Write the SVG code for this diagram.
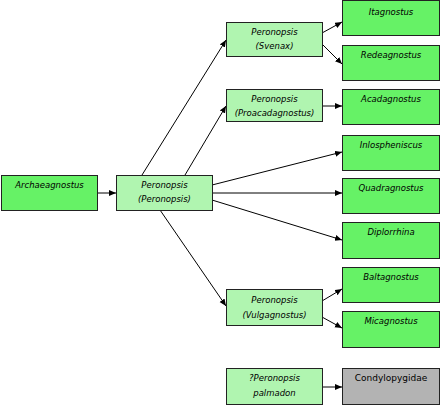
<svg xmlns="http://www.w3.org/2000/svg" width="440" height="405" viewBox="0 0 440 405">
<style>
.dk{fill:#66f266;stroke:#222;stroke-width:1}
.lt{fill:#b0f5b0;stroke:#222;stroke-width:1}
.gr{fill:#b3b3b3;stroke:#222;stroke-width:1}
text{font-family:"DejaVu Sans",Verdana,sans-serif;font-size:8.5px;font-style:italic;text-anchor:middle;fill:#000}
text.n{font-style:normal;font-size:9px}
.c line{stroke:#000;stroke-width:1;marker-end:url(#ah)}
</style>
<defs>
<marker id="ah" markerUnits="userSpaceOnUse" markerWidth="8" markerHeight="7" refX="7" refY="3" orient="auto">
<path d="M0,0 L7,3 L0,6 z" fill="#000"/>
</marker>
</defs>
<rect width="440" height="405" fill="#fff"/>
<g class="c" id="connectors">
<line x1="97" y1="193" x2="116" y2="193"/>
<line x1="142" y1="175" x2="226" y2="40"/>
<line x1="185" y1="175" x2="226" y2="106"/>
<line x1="160" y1="210" x2="226" y2="306"/>
<line x1="212" y1="185" x2="342" y2="152"/>
<line x1="212" y1="193" x2="342" y2="193"/>
<line x1="212" y1="200" x2="342" y2="240"/>
<line x1="322" y1="33" x2="342" y2="22"/>
<line x1="322" y1="44" x2="342" y2="64"/>
<line x1="322" y1="106" x2="342" y2="106"/>
<line x1="322" y1="301" x2="342" y2="289"/>
<line x1="322" y1="317" x2="342" y2="328"/>
<line x1="322" y1="387" x2="342" y2="387"/>
</g>
<g id="archaeagnostus"><rect class="dk" x="1.5" y="175.5" width="96" height="35"/><text x="49.5" y="188">Archaeagnostus</text></g>
<g id="peronopsis"><rect class="lt" x="116.5" y="175.5" width="96" height="35"/><text x="164.5" y="188">Peronopsis</text><text x="164.5" y="202">(Peronopsis)</text></g>
<g id="svenax"><rect class="lt" x="226.5" y="22.5" width="96" height="34"/><text x="274.5" y="35">Peronopsis</text><text x="274.5" y="49">(Svenax)</text></g>
<g id="proacadagnostus"><rect class="lt" x="226.5" y="89.5" width="96" height="32"/><text x="274.5" y="102">Peronopsis</text><text x="274.5" y="116">(Proacadagnostus)</text></g>
<g id="vulgagnostus"><rect class="lt" x="226.5" y="289.5" width="96" height="36"/><text x="274.5" y="303">Peronopsis</text><text x="274.5" y="318">(Vulgagnostus)</text></g>
<g id="palmadon"><rect class="lt" x="226.5" y="368.5" width="96" height="36"/><text x="274.5" y="381">?Peronopsis</text><text x="274.5" y="396">palmadon</text></g>
<g id="itagnostus"><rect class="dk" x="342.5" y="0.5" width="97" height="35"/><text x="391" y="15">Itagnostus</text></g>
<g id="redeagnostus"><rect class="dk" x="342.5" y="45.5" width="97" height="35"/><text x="391" y="58">Redeagnostus</text></g>
<g id="acadagnostus"><rect class="dk" x="342.5" y="89.5" width="97" height="35"/><text x="391" y="102">Acadagnostus</text></g>
<g id="inlospheniscus"><rect class="dk" x="342.5" y="135.5" width="97" height="35"/><text x="391" y="148">Inlospheniscus</text></g>
<g id="quadragnostus"><rect class="dk" x="342.5" y="178.5" width="97" height="35"/><text x="391" y="191">Quadragnostus</text></g>
<g id="diplorrhina"><rect class="dk" x="342.5" y="222.5" width="97" height="36"/><text x="391" y="235">Diplorrhina</text></g>
<g id="baltagnostus"><rect class="dk" x="342.5" y="267.5" width="97" height="35"/><text x="391" y="280">Baltagnostus</text></g>
<g id="micagnostus"><rect class="dk" x="342.5" y="311.5" width="97" height="36"/><text x="391" y="324">Micagnostus</text></g>
<g id="condylopygidae"><rect class="gr" x="342.5" y="368.5" width="97" height="36"/><text class="n" x="391" y="381">Condylopygidae</text></g>
</svg>
